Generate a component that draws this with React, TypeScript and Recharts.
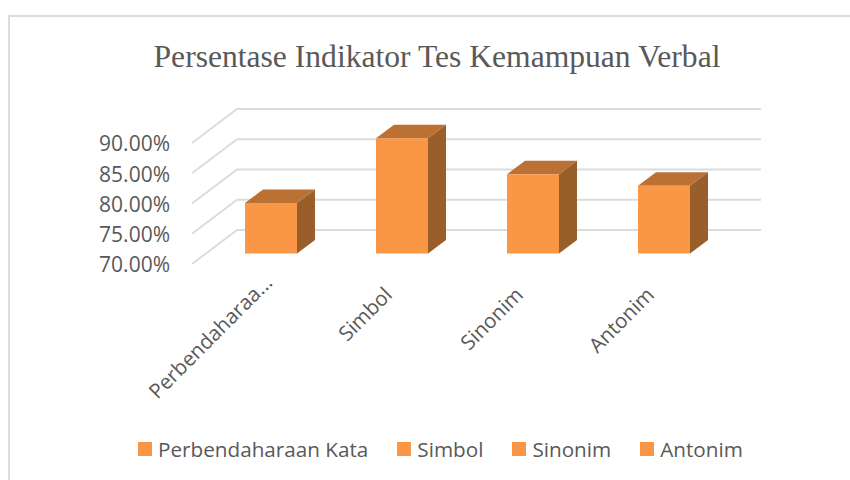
// Persentase indikator tes kemampuan verbal, 3D-look column chart
import { BarChart, Bar, XAxis, YAxis, CartesianGrid, Legend } from "recharts";

const categories = ["Perbendaharaan Kata", "Simbol", "Sinonim", "Antonim"];
const tickLabels = ["Perbendaharaa...", "Simbol", "Sinonim", "Antonim"];
const values = [78.35, 89.05, 83.1, 81.2];
const yTicks = [70, 75, 80, 85, 90];

const FACE = "#F99746";
const TOP = "#BC7134";
const SIDE = "#9A5E2A";
const GRID = "#DCDCDC";
const TEXT = "#595959";
const SANS = "'Open Sans', sans-serif";

const data = categories.map((name, i) => ({ name, value: values[i], tick: tickLabels[i] }));

// grid runs over the floor to the back wall
function WallLine(props: any) {
  const { x1, x2, y1 } = props;
  return (
    <polyline
      points={`${x1},${y1} ${x1 + 45},${y1 - 34} ${x2 + 45},${y1 - 34}`}
      fill="none"
      stroke={GRID}
      strokeWidth={2}
    />
  );
}

function Box(props: any) {
  const { x, y, width, height } = props;
  const left = x + 13;
  const top = y - 10.5;
  const right = left + width;
  const bottom = top + height;
  const dx = 18;
  const dy = 13.5;
  return (
    <g>
      <polygon points={`${left},${top} ${left + dx},${top - dy} ${right + dx},${top - dy} ${right},${top}`} fill={TOP} />
      <polygon points={`${right},${top} ${right + dx},${top - dy} ${right + dx},${bottom - dy} ${right},${bottom}`} fill={SIDE} />
      <rect x={left} y={top} width={width} height={height} fill={FACE} />
    </g>
  );
}

function CategoryTick(props: any) {
  const { x, y, index } = props;
  const label = tickLabels[index];
  // the cut-off label sits further along its slant than the short ones
  const cut = label.endsWith("...");
  const tx = x + (cut ? 16 : 5);
  const ty = y + (cut ? 12 : 24);
  return (
    <text
      x={tx}
      y={ty}
      textAnchor="end"
      fontSize={20.5}
      fontFamily={SANS}
      fill={TEXT}
      transform={`rotate(-45 ${tx} ${ty})`}
    >
      {label}
    </text>
  );
}

function LegendRow() {
  return (
    <div style={{ display: "flex", paddingLeft: 138, fontFamily: SANS, fontSize: 20.7, color: TEXT, lineHeight: "28px" }}>
      {categories.map((c) => (
        <div key={c} style={{ display: "flex", alignItems: "center", marginRight: 29 }}>
          <span style={{ width: 14, height: 14, background: FACE, marginRight: 6, display: "block" }} />
          {c}
        </div>
      ))}
    </div>
  );
}

export default function App() {
  return (
    <div style={{ position: "absolute", left: 0, top: 0, width: 850, height: 480, background: "#fff", overflow: "hidden" }}>
      <div style={{ position: "absolute", left: 8, top: 15, width: 860, height: 480, borderLeft: `2px solid ${GRID}`, borderTop: `2px solid ${GRID}` }} />
      <div
        style={{
          position: "absolute",
          left: 0,
          width: 874,
          top: 39,
          textAlign: "center",
          fontFamily: "'Liberation Serif', serif",
          fontSize: 31.6,
          lineHeight: "36px",
          color: TEXT,
        }}
      >
        Persentase Indikator Tes Kemampuan Verbal
      </div>
      <BarChart
        width={850}
        height={480}
        data={data}
        margin={{ top: 143, right: 134, bottom: 0, left: 0 }}
        style={{ position: "absolute", left: 0, top: 0 }}
      >
        <CartesianGrid vertical={false} horizontal={(p: any) => <WallLine key={p.key} {...p} />} />
        <XAxis dataKey="name" axisLine={false} tickLine={false} interval={0} height={216} tick={CategoryTick} />
        <YAxis
          domain={[70, 90]}
          ticks={yTicks}
          width={192}
          axisLine={false}
          tickLine={false}
          tickMargin={22}
          tickSize={0}
          dy={1}
          tick={{ fontSize: 21, fontFamily: SANS, fill: TEXT }}
          tickFormatter={(v: number) => `${v.toFixed(2)}%`}
        />
        <Legend verticalAlign="middle" content={LegendRow} wrapperStyle={{ left: 0, top: 435, width: 850 }} />
        <Bar dataKey="value" barSize={52} shape={Box} isAnimationActive={false} />
      </BarChart>
    </div>
  );
}
